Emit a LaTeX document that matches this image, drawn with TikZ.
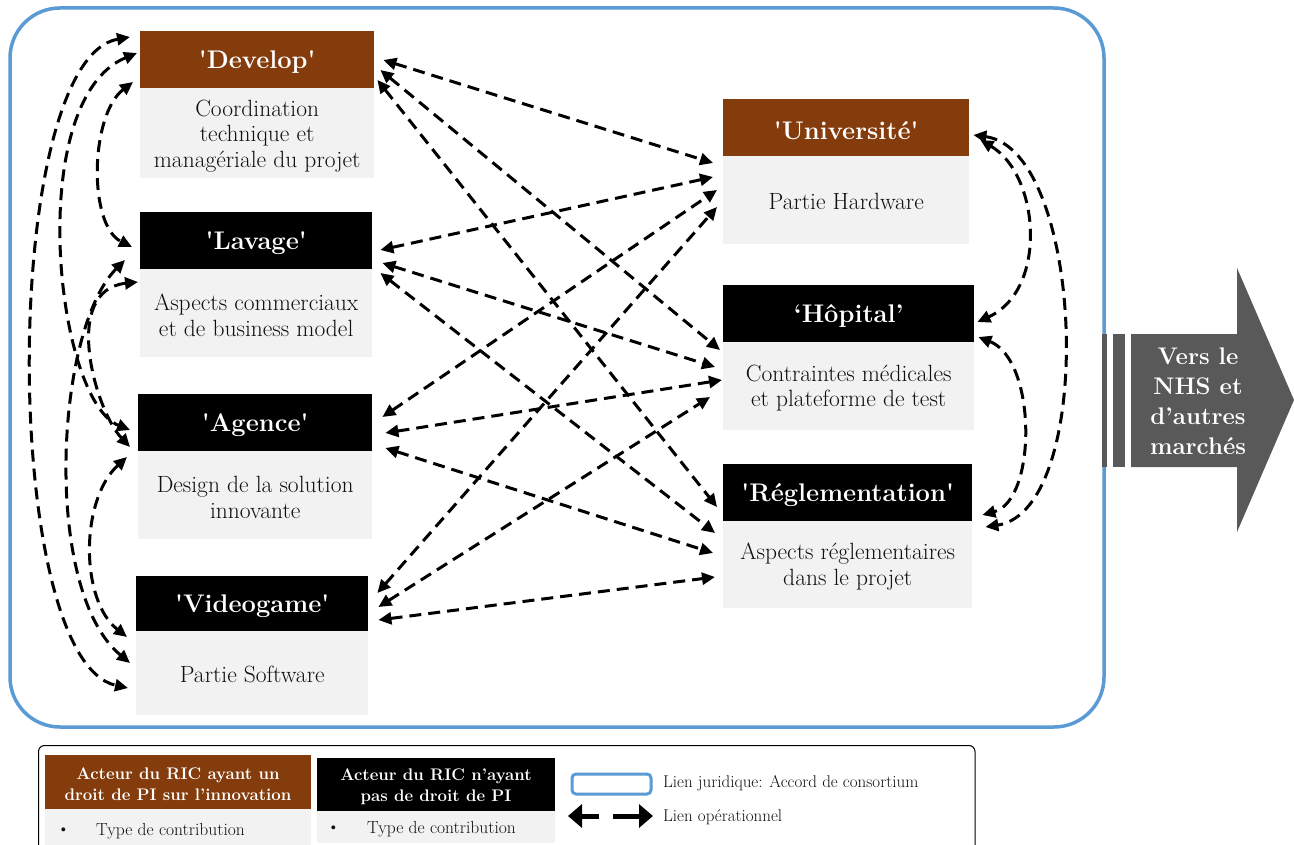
\documentclass[tikz,border=0pt]{standalone}
\usetikzlibrary{arrows.meta,calc}
\definecolor{brownhdr}{HTML}{843C0C}
\definecolor{bodygray}{HTML}{F2F2F2}
\definecolor{blueb}{HTML}{5B9BD5}
\definecolor{arrgray}{HTML}{595959}
\definecolor{bodytext}{HTML}{101010}
\newcommand{\sq}{\textquotesingle}
\newcommand{\hlow}[1]{\raisebox{-2.5pt}[\height][\depth]{#1}}
\begin{document}
\begin{tikzpicture}[x=1pt,y=-1pt,
  hdr/.style={anchor=north west, inner sep=0pt, text=white, align=center,
    font=\fontsize{25.5}{29}\selectfont\bfseries},
  bodybox/.style={anchor=north west, inner sep=0pt, fill=bodygray},
  bodytxt/.style={inner sep=0pt, align=center, text=bodytext,
    font=\fontsize{23.5}{25.5}\selectfont},
  link/.style={line width=3pt, dash pattern=on 12pt off 7pt,
    {Triangle[length=13pt,width=12pt]}-{Triangle[length=13pt,width=12pt]}},
  lghdr/.style={inner sep=0pt, text=white, align=center,
    font=\fontsize{16.8}{21}\selectfont\bfseries},
  lgtext/.style={anchor=west, inner sep=0pt, text=bodytext, font=\fontsize{17}{20}\selectfont},
  typetext/.style={anchor=west, inner sep=0pt, text=bodytext, font=\fontsize{17.5}{20}\selectfont}
]
\useasboundingbox (0,0) rectangle (1294,845);
\fill[white] (0,0) rectangle (1294,845);

% consortium frame
\draw[blueb, line width=3.5pt, rounded corners=50pt] (10,8) rectangle (1104,727);

% left actors
\node[hdr, fill=brownhdr, minimum width=234, minimum height=57] (dh) at (140,31) {\hlow{\sq Develop\sq}};
\node[bodybox, minimum width=234, minimum height=90] (db) at (140,88) {};
\node[bodytxt] (dbt) at ($(db.center)+(0,2.5)$) {Coordination\\technique et\\managériale du projet};
\node[hdr, fill=black, minimum width=232, minimum height=57] (lh) at (140,212) {\hlow{\sq Lavage\sq}};
\node[bodybox, minimum width=232, minimum height=88] (lb) at (140,269) {};
\node[bodytxt] (lbt) at ($(lb.center)+(0,2)$) {Aspects commerciaux\\et de business model};
\node[hdr, fill=black, minimum width=234, minimum height=57] (ah) at (138,394) {\hlow{\sq Agence\sq}};
\node[bodybox, minimum width=234, minimum height=88] (ab) at (138,451) {};
\node[bodytxt] (abt) at ($(ab.center)+(0,2)$) {Design de la solution\\innovante};
\node[hdr, fill=black, minimum width=232, minimum height=55] (vh) at (136,576) {\hlow{\sq Videogame\sq}};
\node[bodybox, minimum width=232, minimum height=84] (vb) at (136,631) {};
\node[bodytxt] (vbt) at ($(vb.center)+(0,1)$) {Partie Software};

% right actors
\node[hdr, fill=brownhdr, minimum width=246, minimum height=57] (uh) at (723,99) {\hlow{\sq Université\sq}};
\node[bodybox, minimum width=246, minimum height=88] (ub) at (723,156) {};
\node[bodytxt] (ubt) at ($(ub.center)+(0,1)$) {Partie Hardware};
\node[hdr, fill=black, minimum width=251, minimum height=57] (hh) at (723,285) {\hlow{`Hôpital'}};
\node[bodybox, minimum width=251, minimum height=88] (hb) at (723,342) {};
\node[bodytxt] (hbt) at ($(hb.center)+(0,2)$) {Contraintes médicales\\et plateforme de test};
\node[hdr, fill=black, minimum width=249, minimum height=57] (rh) at (723,464) {\hlow{\sq Réglementation\sq}};
\node[bodybox, minimum width=249, minimum height=87] (rb) at (723,521) {};
\node[bodytxt] (rbt) at ($(rb.center)+(0,2)$) {Aspects réglementaires\\dans le projet};

% cross links
\draw[link] ($(dh.north east)+(9,29)$) -- ($(uh.north west)+(-10,64)$);
\draw[link] ($(dh.north east)+(6,39)$) -- ($(hh.north west)+(-3,65)$);
\draw[link] ($(dh.north east)+(3,49)$) -- ($(rh.north west)+(-6,43)$);
\draw[link] ($(lh.north east)+(8,38)$) -- ($(uh.north west)+(-10,78)$);
\draw[link] ($(lh.north east)+(10,51)$) -- ($(hh.north west)+(-8,82)$);
\draw[link] ($(lh.north east)+(8,61)$) -- ($(rh.north west)+(-8,69)$);
\draw[link] ($(ah.north east)+(10,23)$) -- ($(uh.north west)+(-6,91)$);
\draw[link] ($(ah.north east)+(13,39)$) -- ($(hh.north west)+(-1,95)$);
\draw[link] ($(ah.north east)+(13,54)$) -- ($(rh.north west)+(-10,89)$);
\draw[link] ($(vh.north east)+(9,17)$) -- ($(uh.north west)+(-6,108)$);
\draw[link] ($(vh.north east)+(10,31)$) -- ($(hh.north west)+(-13,112)$);
\draw[link] ($(vh.north east)+(10,44)$) -- ($(rh.north west)+(-8,113)$);

% left curved links
\draw[link] ($(dh.north west)+(-7,51)$) .. controls (90,115) and (88,225) .. ($(lh.north west)+(-8,35)$);
\draw[link] ($(dh.north west)+(-3,22)$) .. controls (24,100) and (55,400) .. ($(ah.north west)+(-8,36)$);
\draw[link] ($(dh.north west)+(-10,6)$) .. controls (0,60) and (0,660) .. ($(vh.north west)+(-8,112)$);
\draw[link] ($(lh.north west)+(-2,70)$) .. controls (61,290) and (95,410) .. ($(ah.north west)+(-8,53)$);
\draw[link] ($(lh.north west)+(-15,48)$) .. controls (55,330) and (42,590) .. ($(vh.north west)+(-6,87)$);
\draw[link] ($(ah.north west)+(-11,63)$) .. controls (80,500) and (80,600) .. ($(vh.north west)+(-9,61)$);

% right curved links
\draw[link] ($(uh.north east)+(11,41)$) .. controls (1040,175) and (1048,290) .. ($(hh.north east)+(3,37)$);
\draw[link] ($(uh.north east)+(4,36)$) .. controls (1085,150) and (1097,510) .. ($(rh.north east)+(13,63)$);
\draw[link] ($(hh.north east)+(4,52)$) .. controls (1037,360) and (1037,500) .. ($(rh.north east)+(10,51)$);

% market arrow
\fill[arrgray] (1102,334) rectangle (1107,467);
\fill[arrgray] (1113,334) rectangle (1125,467);
\fill[arrgray] (1131,334) -- (1237,334) -- (1237,268) -- (1294,400) -- (1237,532) -- (1237,467) -- (1131,467) -- cycle;
\node[text=white, align=center, inner sep=0pt, font=\fontsize{24}{30}\selectfont\bfseries] (mk) at (1198,401) {Vers le\\NHS et\\d'autres\\marchés};

% legend
\draw[line width=1pt, rounded corners=6pt] (38.5,745.5) rectangle (975,880);
\fill[brownhdr] (45,755) rectangle (311,809);
\node[lghdr] (lg1) at (178,784) {Acteur du RIC ayant un\\droit de PI sur l'innovation};
\fill[bodygray] (45,809) rectangle (311,854);
\fill[black] (317,758) rectangle (555,811);
\node[lghdr] (lg2) at (436,787) {Acteur du RIC n'ayant\\pas de droit de PI};
\fill[bodygray] (317,811) rectangle (555,843);
\node[typetext] (b1) at (57,831) {\textbullet};
\node[typetext] (t1) at (96,831) {Type de contribution};
\node[typetext] (b2) at (327,829) {\textbullet};
\node[typetext] (t2) at (367,829) {Type de contribution};
\draw[blueb, line width=3pt, rounded corners=4pt] (572,774) rectangle (651,794);
\node[lgtext] (lj) at (663,783) {Lien juridique: Accord de consortium};
\coordinate (la) at (568,816);
\coordinate (lb) at (653,816);
\draw[line width=5pt, dash pattern=on 18pt off 14pt on 30pt,
  {Triangle[length=14pt,width=23pt]}-{Triangle[length=14pt,width=23pt]}] (la) -- (lb);
\node[lgtext] (lo) at (663,817) {Lien opérationnel};
\end{tikzpicture}
\end{document}
